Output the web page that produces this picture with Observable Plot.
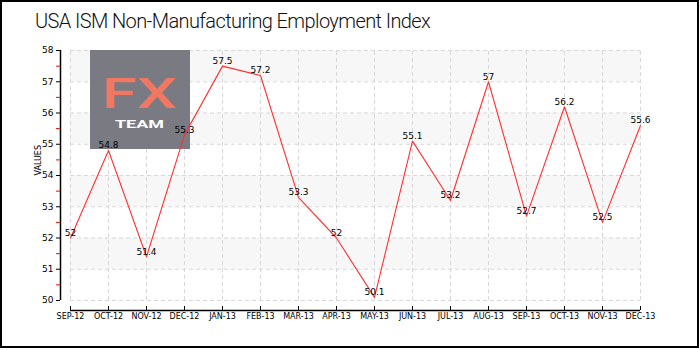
<!DOCTYPE html>
<html><head><meta charset="utf-8">
<script src="https://cdn.jsdelivr.net/npm/d3@7"></script>
<script src="https://cdn.jsdelivr.net/npm/@observablehq/plot@0.6"></script>
<style>
body{margin:0;background:#fff;}
#wrap{position:relative;width:700px;height:350px;}
#wrap svg{position:absolute;left:0;top:0;}
#border{position:absolute;left:0;top:0;width:695px;height:344px;border:2px solid #000;pointer-events:none;}
#title{position:absolute;left:35px;top:9px;font-family:Roboto,sans-serif;font-weight:300;font-size:20px;color:#111;letter-spacing:-0.6px;white-space:nowrap;}
</style></head>
<body>
<div id="wrap"><div id="title">USA ISM Non-Manufacturing Employment Index</div><div id="border"></div></div>
<script>
const months = ["SEP-12","OCT-12","NOV-12","DEC-12","JAN-13","FEB-13","MAR-13","APR-13","MAY-13","JUN-13","JUL-13","AUG-13","SEP-13","OCT-13","NOV-13","DEC-13"];
const values = [52, 54.8, 51.4, 55.3, 57.5, 57.2, 53.3, 52, 50.1, 55.1, 53.2, 57, 52.7, 56.2, 52.5, 55.6];
const labels = ["52","54.8","51.4","55.3","57.5","57.2","53.3","52","50.1","55.1","53.2","57","52.7","56.2","52.5","55.6"];
const yTicks = [50,51,52,53,54,55,56,57,58];
const yHalf = [50.5,51.5,52.5,53.5,54.5,55.5,56.5,57.5];
const bands = [51,53,55,57];

const data = months.map((m,i)=>({m, v: values[i], l: labels[i]}));
const font = "DejaVu Sans";
const first = () => months[0];
const last = () => months[months.length-1];

const chart = Plot.plot({
  width: 700, height: 350,
  marginLeft: 70, marginRight: 60, marginTop: 50, marginBottom: 50,
  style: {fontFamily: font, fontSize: "8px", background: "transparent", overflow: "visible"},
  x: {type: "point", domain: months, padding: 0, axis: null},
  y: {domain: [50, 58], axis: null},
  marks: [
    Plot.rect(bands, {y1: d=>d, y2: d=>d+1, x1: first, x2: last, fill: "#f7f7f7"}),
    Plot.ruleX(months, {y1: 50, y2: 58, stroke: "#d8d8d8", strokeDasharray: "4,3"}),
    Plot.ruleY(yTicks, {x1: first, x2: last, stroke: "#d8d8d8", strokeDasharray: "4,3"}),
    Plot.ruleX([months[0]], {y1: 50, y2: 58, dx: -10, stroke: "#000", strokeWidth: 1.5}),
    Plot.axisY({ticks: yHalf, tickSize: 4, dx: -10, stroke: "red", text: null, label: null}),
    Plot.axisY({ticks: yTicks, tickSize: 4, dx: -10, tickPadding: 3, fontSize: 9, fill: "#000", label: null}),
    Plot.text(["VALUES"], {frameAnchor: "left", dx: -32, dy: 0, rotate: -90, fontSize: 8, fill: "#000"}),
    Plot.ruleY([50], {x1: first, x2: last, dy: 10, stroke: "#000", strokeWidth: 1.5}),
    Plot.axisX({tickSize: 4, dy: 6, tickPadding: 3, fontSize: 8, label: null, fill: "#000"}),
    Plot.line(data, {x: "m", y: "v", stroke: "#ff3030", strokeWidth: 1.1}),
    Plot.text(data, {x: "m", y: "v", text: "l", dy: -5, fontSize: 9, fill: "#000"})
  ]
});
// watermark logo placed behind the data line
const lineNode = chart.querySelector('[aria-label="line"]');
const g = d3.create("svg:g").attr("text-anchor", "start");
g.append("rect").attr("x", 90).attr("y", 50).attr("width", 100).attr("height", 99).attr("fill", "#7a7a82");
g.append("text").attr("x", 102).attr("y", 108).attr("text-anchor", "start").attr("font-family", "Roboto, sans-serif").attr("font-size", 42).attr("font-weight", 500)
  .attr("textLength", 75).attr("lengthAdjust", "spacingAndGlyphs").attr("fill", "#f07862").text("FX");
g.append("text").attr("x", 115).attr("y", 128).attr("text-anchor", "start").attr("font-family", "Roboto, sans-serif").attr("font-size", 11).attr("font-weight", 700)
  .attr("textLength", 49).attr("lengthAdjust", "spacingAndGlyphs").attr("fill", "#ffffff").text("TEAM");
if (lineNode) lineNode.parentNode.insertBefore(g.node(), lineNode); else chart.appendChild(g.node());
const wrap = document.getElementById("wrap");
wrap.insertBefore(chart, wrap.firstChild);
</script>
</body></html>
